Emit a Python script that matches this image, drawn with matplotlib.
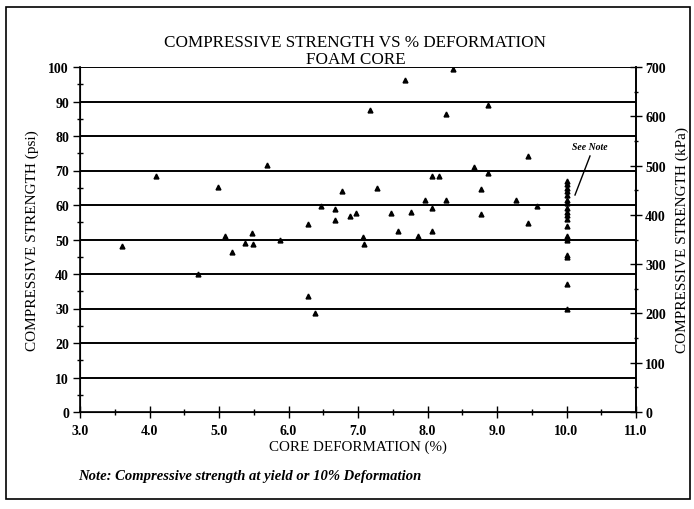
import matplotlib
matplotlib.use("Agg")
import matplotlib.pyplot as plt
from matplotlib.patches import Rectangle
from matplotlib.ticker import MultipleLocator

plt.rcParams['font.family'] = ['Liberation Serif', 'DejaVu Serif']

# Data (core deformation %, compressive strength psi)
deformation = [8.36, 7.67, 7.17, 8.26, 8.87, 9.45, 8.67, 8.87, 8.07, 8.17,
               6.77, 7.27, 8.77, 7.96, 8.26, 9.27, 6.47, 6.67, 8.07, 6.88,
               6.97, 7.47, 7.76, 8.77, 6.28, 6.67, 9.45, 7.57, 8.07, 7.07,
               7.87, 7.08, 6.28, 6.38, 5.69, 4.09, 4.98, 5.09, 5.48, 5.38,
               5.49, 3.60, 5.18, 5.88, 4.70, 9.58]
strength = [99.4, 96.3, 87.6, 86.3, 89.0, 74.1, 70.9, 69.3, 68.5, 68.5,
            64.2, 65.0, 64.5, 61.5, 61.5, 61.5, 59.6, 58.9, 59.2, 56.9,
            57.6, 57.7, 58.1, 57.3, 54.5, 55.7, 54.7, 52.6, 52.6, 50.6,
            50.9, 48.8, 33.5, 28.6, 71.7, 68.4, 65.2, 51.0, 52.0, 49.1,
            48.8, 48.0, 46.4, 49.9, 40.0, 59.8]
# points at 10% deformation (see note)
def10 = [10.0] * 19
str10 = [67.0, 66.0, 65.0, 64.0, 63.0, 61.5, 60.5, 59.0, 58.0, 57.0,
         56.0, 54.0, 51.0, 50.5, 50.0, 45.5, 45.0, 37.0, 30.0]

x_ticks = [3.0, 4.0, 5.0, 6.0, 7.0, 8.0, 9.0, 10.0, 11.0]
x_ticklabels = ['3.0', '4.0', '5.0', '6.0', '7.0', '8.0', '9.0', '10.0', '11.0']
psi_ticks = [0, 10, 20, 30, 40, 50, 60, 70, 80, 90, 100]
kpa_ticks = [0, 100, 200, 300, 400, 500, 600, 700]

fig = plt.figure(figsize=(6.94, 5.10), dpi=100)
ax = fig.add_axes([80/694, 1-413/510, (636-80)/694, (413-68)/510])

for g in psi_ticks[1:]:
    ax.axhline(g, color='black', lw=1.4, zorder=1)

ax.plot(deformation, strength, linestyle='none', marker='^', ms=3.5,
        color='black', zorder=3)
ax.plot(def10, str10, linestyle='none', marker='^', ms=3.5,
        color='black', zorder=3)

ax.set_xlim(3.0, 11.0)
ax.set_ylim(0, 100)
ax.set_xticks(x_ticks)
ax.set_xticklabels(x_ticklabels)
ax.xaxis.set_minor_locator(MultipleLocator(0.5))
ax.set_yticks(psi_ticks)
ax.yaxis.set_minor_locator(MultipleLocator(5))
ax.tick_params(axis='x', which='major', direction='inout', length=9, width=1, labelsize=10, pad=4)
ax.tick_params(axis='x', which='minor', direction='inout', length=5, width=1)
ax.tick_params(axis='y', which='major', direction='out', length=5, width=1, labelsize=10, pad=3)
ax.tick_params(axis='y', which='minor', direction='inout', length=5, width=1)
ax.spines['top'].set_visible(False)
for s in ['left', 'bottom', 'right']:
    ax.spines[s].set_linewidth(1.2)
for lab in ax.get_xticklabels() + ax.get_yticklabels():
    lab.set_fontweight('bold')

ax.set_xlabel('CORE DEFORMATION (%)', fontsize=10.8, labelpad=2)
ax.set_ylabel('COMPRESSIVE STRENGTH (psi)', fontsize=11, labelpad=7)

ax2 = ax.twinx()
ax2.set_ylim(0, 700)
ax2.set_yticks(kpa_ticks)
ax2.yaxis.set_minor_locator(MultipleLocator(50))
ax2.tick_params(axis='y', which='major', direction='inout', length=9, width=1, labelsize=10, pad=2)
ax2.tick_params(axis='y', which='minor', direction='inout', length=3, width=1)
ax2.spines['top'].set_visible(False)
ax2.spines['right'].set_linewidth(1.2)
for lab in ax2.get_yticklabels():
    lab.set_fontweight('bold')
ax2.set_ylabel('COMPRESSIVE STRENGTH (kPa)', fontsize=11, labelpad=7)

fig.text(0.512, 1-47/510, 'COMPRESSIVE STRENGTH VS % DEFORMATION', ha='center', va='baseline', fontsize=12.3)
fig.text(0.512, 1-64/510, 'FOAM CORE', ha='center', va='baseline', fontsize=12.3)

# "See Note" callout in axes-fraction coordinates
ax.text((590-80)/556, (413-147)/345, 'See Note', transform=ax.transAxes, ha='center', va='center',
        fontsize=7, style='italic', fontweight='bold')
ax.plot([(590-80)/556, (575-80)/556], [(413-157)/345, (413-196)/345], transform=ax.transAxes,
        color='black', lw=1)

fig.text(78/694, 1-477/510, 'Note: Compressive strength at yield or 10% Deformation',
         ha='left', va='center', fontsize=10.5, style='italic', fontweight='bold')

fig.patches.append(Rectangle((6/694, 1-500/510), (690-6)/694, (500-8)/510, transform=fig.transFigure,
                             fill=False, edgecolor='black', lw=1.2))

fig.savefig('out.png', dpi=100)
